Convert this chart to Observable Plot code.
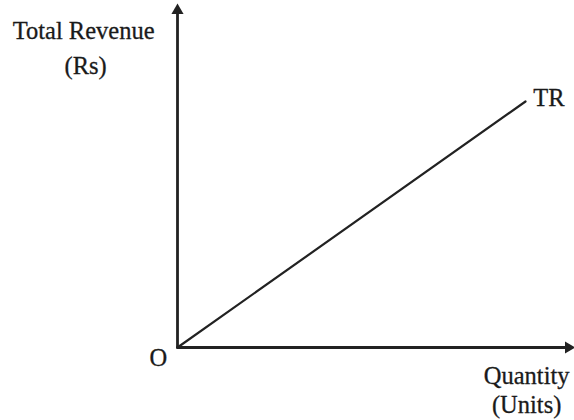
<!DOCTYPE html>
<html>
<head>
<meta charset="utf-8">
<script src="https://cdn.jsdelivr.net/npm/d3@7"></script>
<script src="https://cdn.jsdelivr.net/npm/@observablehq/plot@0.6"></script>
<style>
  html, body { margin: 0; padding: 0; background: #fff; }
  #chart svg { display: block; }
</style>
</head>
<body>
<div id="chart"></div>
<script>
// Axis extents (data units)
const xAxisLine = [{x: 0, y: 0}, {x: 100, y: 0}];
const yAxisLine = [{x: 0, y: 0}, {x: 0, y: 100}];
// Total revenue line (proportional to quantity)
const trQuantity = [0, 89];
const trRevenue = [0, 73];
const trLine = trQuantity.map((q, i) => ({x: q, y: trRevenue[i]}));
// Arrow heads
const heads = [{x: 100, y: 0, rotate: 90}, {x: 0, y: 100, rotate: 0}];
// Text labels
const labelText = ["Total Revenue", "(Rs)", "O", "TR", "Quantity", "(Units)"];
const labelX = [-24, -23.5, -4.9, 95, 89.3, 89.3];
const labelY = [94, 83.4, -3.3, 74, -8.6, -17];
const labels = labelText.map((t, i) => ({text: t, x: labelX[i], y: labelY[i]}));

const ink = "#222";
const chart = Plot.plot({
  width: 574,
  height: 420,
  marginLeft: 177,
  marginRight: 6,
  marginTop: 10,
  marginBottom: 73,
  x: {domain: [0, 100], axis: null},
  y: {domain: [0, 100], axis: null},
  style: {background: "#fff", fontFamily: "'Liberation Serif', 'DejaVu Serif', serif"},
  marks: [
    Plot.line(xAxisLine, {x: "x", y: "y", stroke: ink, strokeWidth: 2.8}),
    Plot.line(yAxisLine, {x: "x", y: "y", stroke: ink, strokeWidth: 2.8}),
    Plot.line(trLine, {x: "x", y: "y", stroke: ink, strokeWidth: 2.2}),
    Plot.dot(heads, {x: "x", y: "y", symbol: "triangle", r: 4.5, fill: ink, stroke: "none", rotate: "rotate"}),
    Plot.text(labels, {x: "x", y: "y", text: "text", fontSize: 24.5, fill: "#1a1a1a", stroke: "#1a1a1a", strokeWidth: 0.3, textAnchor: "middle"})
  ]
});
document.getElementById("chart").appendChild(chart);
</script>
</body>
</html>
